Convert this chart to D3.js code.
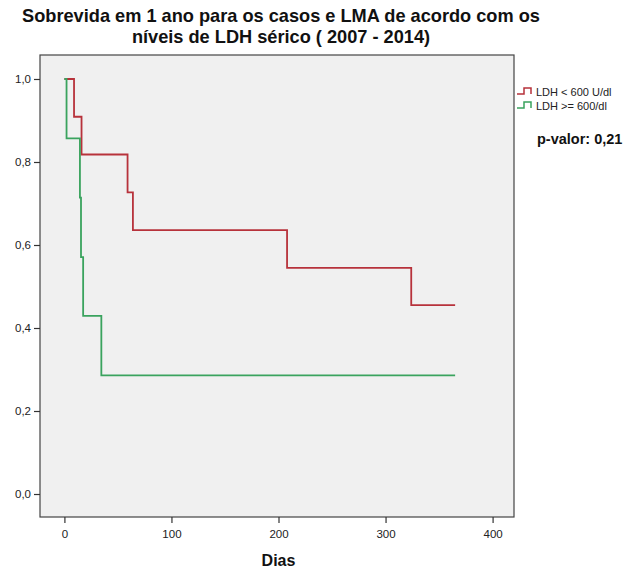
<!DOCTYPE html>
<html>
<head>
<meta charset="utf-8">
<script src="https://cdn.jsdelivr.net/npm/d3@7"></script>
<style>
  body { margin: 0; background: #fff; }
  text { font-family: "Liberation Sans", Arial, sans-serif; }
</style>
</head>
<body>
<svg width="640" height="571"></svg>
<script>
const svg = d3.select('svg');

// Kaplan-Meier steps: [dias, sobrevida]
const lowLDH = [
  [0, 1.0], [9, 0.909], [16, 0.818], [59, 0.727], [64, 0.636],
  [208, 0.545], [324, 0.455], [365, 0.455],
];
const highLDH = [
  [0, 1.0], [2, 0.857], [14.5, 0.714], [15.5, 0.571], [17.5, 0.429],
  [34.5, 0.286], [365, 0.286],
];
const seriesNames = ['LDH < 600 U/dl', 'LDH >= 600/dl'];
const seriesColors = ['#b7323b', '#3aa35e'];
const xTicks = [0, 100, 200, 300, 400];
const yTicks = [0, 0.2, 0.4, 0.6, 0.8, 1.0];

const frame = {left: 40, right: 514, top: 55, bottom: 517};

const x = d3.scaleLinear().domain([-22.8, 420]).range([frame.left, frame.right]);
const y = d3.scaleLinear().domain([-0.0554, 1.0578]).range([frame.bottom, frame.top]);

// title
const title = svg.append('text')
  .attr('text-anchor', 'middle')
  .attr('font-size', 18.2)
  .attr('font-weight', 'bold')
  .attr('fill', '#111');
title.append('tspan').attr('x', 281).attr('y', 22)
  .text('Sobrevida em 1 ano para os casos e LMA de acordo com os');
title.append('tspan').attr('x', 281).attr('y', 43)
  .text('níveis de LDH sérico ( 2007 - 2014)');

// plot area
svg.append('rect')
  .attr('x', frame.left).attr('y', frame.top)
  .attr('width', frame.right - frame.left)
  .attr('height', frame.bottom - frame.top)
  .attr('fill', '#f0f0f0')
  .attr('stroke', '#444')
  .attr('stroke-width', 1.2);

const xAxis = svg.append('g')
  .attr('transform', `translate(0,${frame.bottom})`)
  .call(d3.axisBottom(x).tickValues(xTicks).tickSize(6).tickPadding(7).tickFormat(d3.format('d')));
xAxis.select('.domain').remove();

const yAxis = svg.append('g')
  .attr('transform', `translate(${frame.left},0)`)
  .call(d3.axisLeft(y).tickValues(yTicks).tickSize(6).tickPadding(3)
    .tickFormat(d => d3.format('.1f')(d).replace('.', ',')));
yAxis.select('.domain').remove();

svg.selectAll('.tick line').attr('stroke', '#333').attr('stroke-width', 1.2);
svg.selectAll('.tick text')
  .attr('font-family', '"Liberation Sans", Arial, sans-serif')
  .attr('font-size', 11.5)
  .attr('fill', '#222');

// curves
const line = d3.line().x(d => x(d[0])).y(d => y(d[1])).curve(d3.curveStepAfter);
[lowLDH, highLDH].forEach((data, i) => {
  svg.append('path')
    .datum(data)
    .attr('fill', 'none')
    .attr('stroke', seriesColors[i])
    .attr('stroke-width', 1.8)
    .attr('d', line);
});

// legend
const legend = svg.append('g').attr('transform', 'translate(517,92)');
seriesNames.forEach((name, i) => {
  const g = legend.append('g').attr('transform', `translate(0,${i * 14})`);
  g.append('path')
    .attr('d', 'M0,2 H7 V-4 H14 V2')
    .attr('fill', 'none')
    .attr('stroke', seriesColors[i])
    .attr('stroke-width', 1.5);
  g.append('text')
    .attr('x', 19).attr('y', 4)
    .attr('font-size', 11)
    .attr('fill', '#222')
    .text(name);
});

svg.append('text')
  .attr('x', 537).attr('y', 144)
  .attr('font-family', 'Lato, "Open Sans", sans-serif')
  .attr('font-weight', 'bold')
  .attr('font-size', 14.5)
  .attr('fill', '#111')
  .text('p-valor: 0,21');

svg.append('text')
  .attr('x', x(200)).attr('y', 566)
  .attr('text-anchor', 'middle')
  .attr('font-family', 'Lato, "Open Sans", sans-serif')
  .attr('font-weight', 'bold')
  .attr('font-size', 16)
  .attr('fill', '#111')
  .text('Dias');
</script>
</body>
</html>
